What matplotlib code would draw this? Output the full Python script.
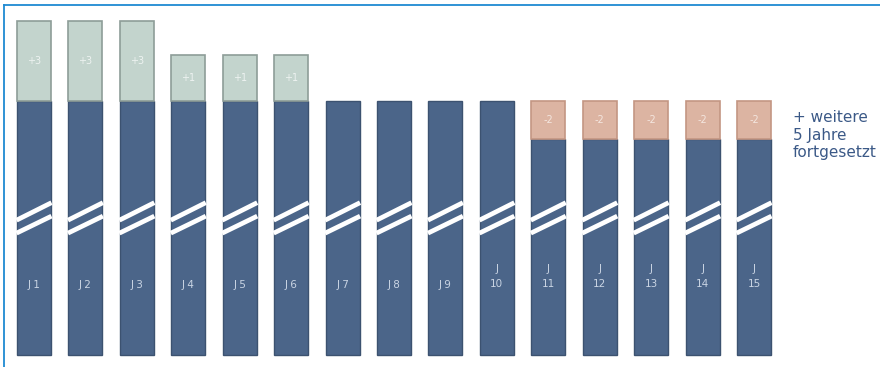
import matplotlib
matplotlib.use("Agg")
import matplotlib.pyplot as plt
from matplotlib.lines import Line2D

# ---- data (schematic units) ----
years = list(range(1, 16))
year_labels = ["J 1", "J 2", "J 3", "J 4", "J 5", "J 6", "J 7", "J 8", "J 9",
               "J\n10", "J\n11", "J\n12", "J\n13", "J\n14", "J\n15"]
base_height = [10.0] * 15
extra_height = [3.15, 3.15, 3.15, 1.8, 1.8, 1.8, 0, 0, 0, 0, 0, 0, 0, 0, 0]
reduction_height = [0, 0, 0, 0, 0, 0, 0, 0, 0, 0, 1.5, 1.5, 1.5, 1.5, 1.5]
segment_labels = ["+3", "+3", "+3", "+1", "+1", "+1", "", "", "", "", "-2", "-2", "-2", "-2", "-2"]
side_note = "+ weitere\n5 Jahre\nfortgesetzt"

# ---- styles ----
dark = "#4b6589"
dark_edge = "#3c5270"
green = "#c3d4cd"
green_edge = "#8e9d98"
pink = "#dcb4a2"
pink_edge = "#c39683"
label_col = "#c9d4e3"
note_col = "#3b5987"
bar_w = 0.66

fig = plt.figure(figsize=(8.8, 3.67), dpi=100)
ax = fig.add_axes([0, 0, 1, 1])
ax.set_xlim(0.339, 17.45)
ax.set_ylim(-0.47, 13.98)
ax.axis("off")

for x, b, e, r, lab, sl in zip(years, base_height, extra_height, reduction_height,
                               year_labels, segment_labels):
    dark_h = b - r
    ax.bar(x, dark_h, width=bar_w, bottom=0, color=dark, edgecolor=dark_edge, linewidth=1.0)
    if e > 0:
        ax.bar(x, e, width=bar_w, bottom=b, color=green, edgecolor=green_edge, linewidth=1.2)
        ax.text(x, b + e / 2, sl, ha="center", va="center", fontsize=7,
                color="#eef3f1")
    if r > 0:
        ax.bar(x, r, width=bar_w, bottom=dark_h, color=pink, edgecolor=pink_edge, linewidth=1.2)
        ax.text(x, dark_h + r / 2, sl, ha="center", va="center", fontsize=7,
                color="#f4e6df")
    # break marks (two white slanted stripes)
    x0, x1 = x - bar_w / 2 - 0.01, x + bar_w / 2 + 0.01
    for yl, yr in ((5.31, 6.0), (4.80, 5.47)):
        ax.add_line(Line2D([x0, x1], [yl, yr], color="white", linewidth=3.4,
                           solid_capstyle="butt"))
    # year label
    if "\n" in lab:
        ax.text(x, 3.1, lab, ha="center", va="center", fontsize=7.5,
                color=label_col, linespacing=1.55)
    else:
        ax.text(x, 2.76, lab, ha="center", va="center", fontsize=7.5, color=label_col)

ax.text(15.76, 8.66, side_note, ha="left", va="center", fontsize=11,
        family="DejaVu Sans", color=note_col, linespacing=1.2)

# figure frame (top and left visible)
fig.add_artist(Line2D([4 / 880, 4 / 880], [0, 1 - 5 / 367], transform=fig.transFigure,
                      color="#1f8ad2", linewidth=1.3))
fig.add_artist(Line2D([4 / 880, 1], [1 - 5 / 367, 1 - 5 / 367], transform=fig.transFigure,
                      color="#1f8ad2", linewidth=1.3))

fig.savefig("out.png", dpi=100)
